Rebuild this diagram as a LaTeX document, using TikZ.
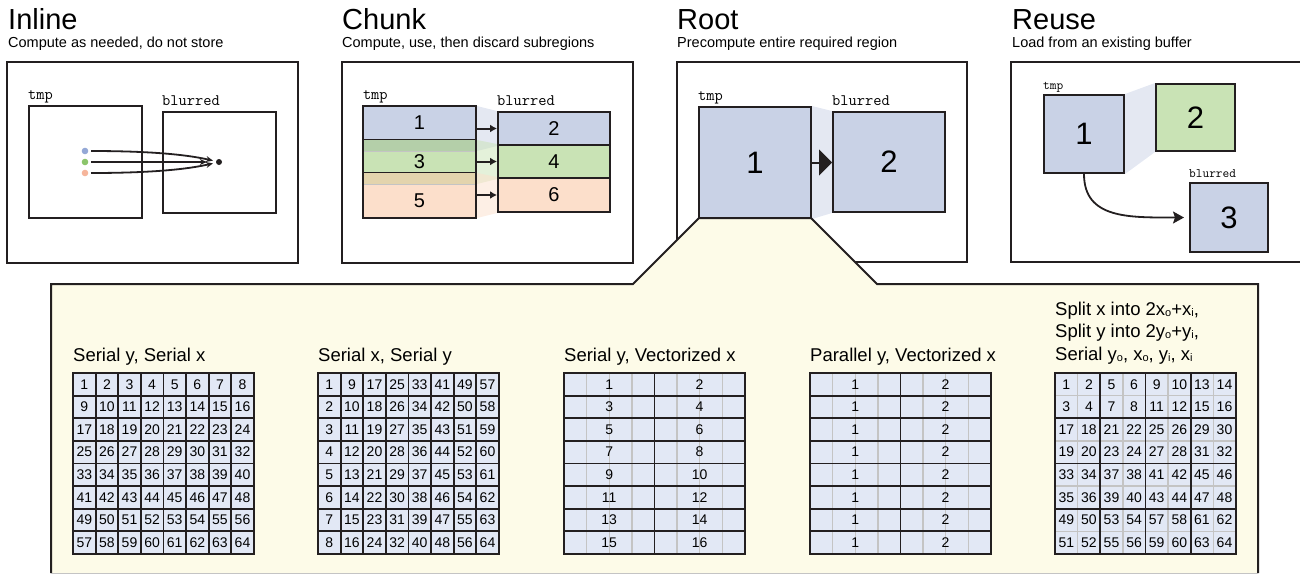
\documentclass[tikz,border=0pt]{standalone}
\usepackage{fontspec}
\setmainfont{Liberation Sans}
\usetikzlibrary{positioning,arrows.meta,backgrounds}
\definecolor{ink}{HTML}{231F20}
\definecolor{blueA}{HTML}{C9D2E6}
\definecolor{greenA}{HTML}{C9E3B5}
\definecolor{orangeA}{HTML}{FCDFCB}
\definecolor{dkgreen}{HTML}{B4CFA9}
\definecolor{tanA}{HTML}{E3D4AD}
\definecolor{panelc}{HTML}{FDFBE8}
\definecolor{cellc}{HTML}{E2E8F5}
\definecolor{faint}{HTML}{C4C4C4}
\definecolor{dotB}{HTML}{94A8D6}
\definecolor{dotG}{HTML}{8CC56B}
\definecolor{dotO}{HTML}{F6B59B}
\newcommand{\fsz}[1]{\fontsize{#1}{#1}\selectfont}
\newcommand{\subtext}[1]{\raisebox{-1pt}{\fsz{11}#1}}
\def\cs{22.6}

\begin{document}
\begin{tikzpicture}[x=1pt,y=-1pt,
  heading/.style={font=\fsz{29},inner sep=0pt,anchor=base west},
  subttl/.style={font=\fsz{14.5},inner sep=0pt,anchor=base west},
  lbl/.style={font=\ttfamily\fsz{16},inner sep=0pt,anchor=base west},
  smalllbl/.style={font=\ttfamily\fsz{13},inner sep=0pt,anchor=base west},
  outline/.style={draw=ink,line width=2pt},
  buf/.style={draw=ink,line width=2pt,inner sep=0pt,fill=blueA},
  band/.style={inner sep=0pt,minimum width=113pt},
  dot/.style={circle,inner sep=0pt,minimum size=6.6pt},
  thinarr/.style={ink,line width=1.8pt,-{Stealth[length=7pt,width=6pt]}},
  arr/.style={ink,line width=2pt,-{Latex[length=7pt,width=8pt]}},
  bigarr/.style={ink,line width=2pt,-{Triangle[length=13pt,width=26pt]}},
  wedge/.style={opacity=.5},
  gridline/.style={ink,line width=1.8pt},
  faintline/.style={faint,line width=1.4pt},
  gridbox/.style={draw=ink,line width=2.4pt},
  cellnum/.style={font=\fsz{14},inner sep=0pt},
  gtitle/.style={font=\fsz{18.5},inner sep=0pt,anchor=base west}]
\useasboundingbox (0,0) rectangle (1300,574);

% headings
\node[heading] (h-in) at (8,29) {Inline};
\node[subttl] (s-in) at (8,47) {Compute as needed, do not store};
\node[heading] (h-ch) at (342,29) {Chunk};
\node[subttl] (s-ch) at (342,47) {Compute, use, then discard subregions};
\node[heading] (h-ro) at (677,29) {Root};
\node[subttl] (s-ro) at (677,47) {Precompute entire required region};
\node[heading] (h-re) at (1012,29) {Reuse};
\node[subttl] (s-re) at (1012,47) {Load from an existing buffer};

% frames
\draw[outline] (7,62) rectangle (298,263);
\draw[outline] (342,62) rectangle (633,263);
\draw[outline] (677,62) rectangle (967,262);
\draw[outline] (1300,62) -- (1011,62) -- (1011,262) -- (1300,262);

% inline
\node[buf,fill=white,minimum width=113pt,minimum height=112pt] (in1) at (85.5,162) {};
\node[buf,fill=white,minimum width=113pt,minimum height=101pt] (in2) at (219.5,162.5) {};
\node[lbl] (in1-l) at ([yshift=6pt]in1.north west) {tmp};
\node[lbl] (in2-l) at ([yshift=6pt]in2.north west) {blurred};
\node[dot,fill=dotB] (pb) at (85,151) {};
\node[dot,fill=dotG] (pg) at (85,162) {};
\node[dot,fill=dotO] (po) at (85,173) {};
\node[dot,fill=ink,minimum size=6pt] (px) at (219,162) {};
\draw[thinarr,shorten <=2.5pt,shorten >=3pt] (pb) .. controls +(60,0) and +(-35,-8) .. (px);
\draw[thinarr,shorten <=2.5pt,shorten >=9pt] (pg) -- (px);
\draw[thinarr,shorten <=2.5pt,shorten >=3pt] (po) .. controls +(60,0) and +(-35,8) .. (px);

% chunk
\node[band,fill=blueA,minimum height=45pt] (c1) at (419.5,128.5) {};
\node[band,fill=greenA,minimum height=44pt] (c3) at (419.5,162) {};
\node[band,fill=orangeA,minimum height=45pt] (c5) at (419.5,195.5) {};
\fill[dkgreen] (c3.north west) rectangle (c1.south east);
\fill[tanA] (c5.north west) rectangle (c3.south east);
\draw[faint,line width=1.2pt] (c1.south west) -- (c1.south east);
\draw[faint,line width=1.2pt] (c3.south west) -- (c3.south east);
\draw[ink,line width=1.2pt] (c3.north west) -- (c3.north east);
\draw[ink,line width=1.2pt] (c5.north west) -- (c5.north east);
\draw[outline] (c1.north west) rectangle (c5.south east);
\node[font=\fsz{20}] (c1-t) at (419.5,123) {1};
\node[font=\fsz{20}] (c3-t) at (419.5,162) {3};
\node[font=\fsz{20}] (c5-t) at (419.5,201) {5};
\node[lbl] (c-l) at ([yshift=6pt]c1.north west) {tmp};
\node[buf,minimum width=112pt,minimum height=33pt,font=\fsz{20}] (b2) at (554,128.5) {2};
\node[buf,fill=greenA,minimum width=112pt,minimum height=33pt,font=\fsz{20}] (b4) at (554,161.5) {4};
\node[buf,fill=orangeA,minimum width=112pt,minimum height=34pt,font=\fsz{20}] (b6) at (554,195) {6};
\node[lbl] (b-l) at ([yshift=6pt]b2.north west) {blurred};
\draw[arr] (c1.east |- b2.west) -- (b2.west);
\draw[arr] (c1.east |- b4.west) -- (b4.west);
\draw[arr] (c1.east |- b6.west) -- (b6.west);
\begin{scope}[on background layer]
\fill[blueA,wedge] (c1.north east) -- (b2.north west) -- (b2.south west) -- (c1.south east) -- cycle;
\fill[greenA,wedge] (c3.north east) -- (b4.north west) -- (b4.south west) -- (c3.south east) -- cycle;
\fill[orangeA,wedge] (c5.north east) -- (b6.north west) -- (b6.south west) -- (c5.south east) -- cycle;
\end{scope}

% reuse
\node[buf,minimum width=80pt,minimum height=78pt,font=\fsz{31}] (u1) at (1084,134) {1};
\node[buf,fill=greenA,minimum width=79pt,minimum height=67pt,font=\fsz{31}] (u2) at (1195.5,117.5) {2};
\node[buf,minimum width=78pt,minimum height=69pt,font=\fsz{31}] (u3) at (1229,217.5) {3};
\node[smalllbl] (u1-l) at ([yshift=5pt]u1.north west) {tmp};
\node[smalllbl] (u3-l) at ([yshift=5pt]u3.north west) {blurred};
\draw[ink,line width=1.8pt,-{Stealth[length=11pt,width=12pt,inset=2pt]},shorten >=5pt]
  (u1.south) .. controls +(0,45) and +(-60,0) .. (u3.west);
\begin{scope}[on background layer]
\fill[blueA,wedge] (u1.north east) -- (u2.north west) -- (u2.south west) -- (u1.south east) -- cycle;
\end{scope}

% bottom panel
\fill[panelc] (51,573) -- (51,284) -- (633,284) -- (699,218) -- (811,218) -- (877,284) -- (1258,284) -- (1258,573) -- cycle;
\draw[ink,line width=2pt,line join=miter] (51,573) -- (51,284) -- (633,284) -- (699,218) -- (811,218) -- (877,284) -- (1258,284) -- (1258,573);
\draw[faint,line width=1pt] (51,573) -- (1258,573);

% root
\node[buf,minimum width=112pt,minimum height=111pt,font=\fsz{31}] (r1) at (755,162.5) {1};
\node[buf,minimum width=112pt,minimum height=100pt,font=\fsz{31}] (r2) at (889,162) {2};
\node[lbl] (r1-l) at ([yshift=6pt]r1.north west) {tmp};
\node[lbl] (r2-l) at ([yshift=6pt]r2.north west) {blurred};
\draw[bigarr] (r1.east) -- (r1.east -| r2.west);
\begin{scope}[on background layer]
\fill[blueA,wedge] (r1.north east) -- (r2.north west) -- (r2.south west) -- (r1.south east) -- cycle;
\end{scope}

% serial y, serial x
\node[gtitle] (g1-t) at (73,361) {Serial y, Serial x};
\fill[cellc] (73,373) rectangle +(180.8,180.8);
\foreach \i in {1,...,7} {
  \draw[gridline] (73+\i*\cs,373) -- ++(0,180.8);
  \draw[gridline] (73,373+\i*\cs) -- ++(180.8,0);
}
\draw[gridbox] (73,373) rectangle +(180.8,180.8);
\foreach \r in {0,...,7} \foreach \c in {0,...,7} {
  \pgfmathtruncatemacro\n{\r*8+\c+1}
  \node[cellnum] (g1-\r-\c) at (73+\c*\cs+\cs/2,373+\r*\cs+\cs/2) {\n};
}

% serial x, serial y
\node[gtitle] (g2-t) at (318,361) {Serial x, Serial y};
\fill[cellc] (318,373) rectangle +(180.8,180.8);
\foreach \i in {1,...,7} {
  \draw[gridline] (318+\i*\cs,373) -- ++(0,180.8);
  \draw[gridline] (318,373+\i*\cs) -- ++(180.8,0);
}
\draw[gridbox] (318,373) rectangle +(180.8,180.8);
\foreach \r in {0,...,7} \foreach \c in {0,...,7} {
  \pgfmathtruncatemacro\n{\c*8+\r+1}
  \node[cellnum] (g2-\r-\c) at (318+\c*\cs+\cs/2,373+\r*\cs+\cs/2) {\n};
}

% serial y, vectorized x
\node[gtitle] (g3-t) at (564,361) {Serial y, Vectorized x};
\fill[cellc] (564,373) rectangle +(180.8,180.8);
\foreach \i in {1,2,3,5,6,7} \draw[faintline] (564+\i*\cs,373) -- ++(0,180.8);
\foreach \i in {1,...,7} \draw[gridline] (564,373+\i*\cs) -- ++(180.8,0);
\draw[gridline] (564+4*\cs,373) -- ++(0,180.8);
\draw[gridbox] (564,373) rectangle +(180.8,180.8);
\foreach \r in {0,...,7} \foreach \h in {0,1} {
  \pgfmathtruncatemacro\n{\r*2+\h+1}
  \node[cellnum] (g3-\r-\h) at (564+\h*4*\cs+2*\cs,373+\r*\cs+\cs/2) {\n};
}

% parallel y, vectorized x
\node[gtitle] (g4-t) at (810,361) {Parallel y, Vectorized x};
\fill[cellc] (810,373) rectangle +(180.8,180.8);
\foreach \i in {1,2,3,5,6,7} \draw[faintline] (810+\i*\cs,373) -- ++(0,180.8);
\foreach \i in {1,...,7} \draw[gridline] (810,373+\i*\cs) -- ++(180.8,0);
\draw[gridline] (810+4*\cs,373) -- ++(0,180.8);
\draw[gridbox] (810,373) rectangle +(180.8,180.8);
\foreach \r in {0,...,7} \foreach \h in {0,1} {
  \pgfmathtruncatemacro\n{\h+1}
  \node[cellnum] (g4-\r-\h) at (810+\h*4*\cs+2*\cs,373+\r*\cs+\cs/2) {\n};
}

% tiled
\node[gtitle] (g5-t1) at (1055,315) {Split x into 2x\subtext{o}+x\subtext{i},};
\node[gtitle] (g5-t2) at (1055,337.5) {Split y into 2y\subtext{o}+y\subtext{i},};
\node[gtitle] (g5-t3) at (1055,360) {Serial y\subtext{o}, x\subtext{o}, y\subtext{i}, x\subtext{i}};
\fill[cellc] (1055,373) rectangle +(180.8,180.8);
\foreach \i in {1,3,5,7} {
  \draw[faintline] (1055+\i*\cs,373) -- ++(0,180.8);
  \draw[faintline] (1055,373+\i*\cs) -- ++(180.8,0);
}
\foreach \i in {2,4,6} {
  \draw[gridline] (1055+\i*\cs,373) -- ++(0,180.8);
  \draw[gridline] (1055,373+\i*\cs) -- ++(180.8,0);
}
\draw[gridbox] (1055,373) rectangle +(180.8,180.8);
\foreach \r in {0,...,7} \foreach \c in {0,...,7} {
  \pgfmathtruncatemacro\n{int(\r/2)*16+int(\c/2)*4+mod(\r,2)*2+mod(\c,2)+1}
  \node[cellnum] (g5-\r-\c) at (1055+\c*\cs+\cs/2,373+\r*\cs+\cs/2) {\n};
}
\end{tikzpicture}
\end{document}
